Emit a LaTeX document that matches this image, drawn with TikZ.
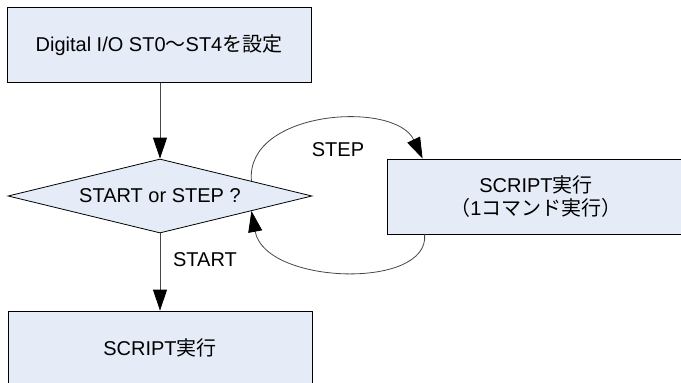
\documentclass[tikz,border=0pt]{standalone}
\usepackage{fontspec}
\setmainfont{Liberation Sans}
\newfontfamily\jp{Noto Sans CJK JP}
\usetikzlibrary{arrows.meta,shapes.geometric,calc}
\definecolor{boxfill}{RGB}{230,236,247}
\definecolor{linegray}{RGB}{70,70,70}
\begin{document}
\begin{tikzpicture}[x=1pt,y=-1pt,
  txt/.style={font=\fontsize{20}{23}\selectfont},
  flowbox/.style={txt, draw=black, line width=0.8pt, fill=boxfill,
    minimum width=304pt, minimum height=75pt, inner sep=0pt, align=center},
  decision/.style={txt, shape=diamond, draw=black, line width=0.8pt, fill=boxfill,
    minimum width=304pt, minimum height=74pt, inner sep=0pt, aspect=5},
  conn/.style={draw=linegray, line width=0.8pt,
    -{Triangle[length=21pt,width=14pt,color=black]}},
  lbl/.style={txt, inner sep=0pt}]
\useasboundingbox (0,0) rectangle (681,383);

% flow nodes
\node[flowbox] (init) at (159,45) {Digital I/O ST0{\jp 〜}ST4{\jp を設定}};
\node[decision] (dec) at (160,196) {START or STEP ?};
\node[flowbox, minimum width=298pt] (step) at (536,196.5)
  {SCRIPT{\jp 実行}\\{\jp （}1{\jp コマンド実行）}};
\node[flowbox, minimum height=74pt] (run) at (160,348) {SCRIPT{\jp 実行}};

% branch labels
\node[lbl] (lstep) at (338,150) {STEP};
\node[lbl] (lstart) at (205,260) {START};

% loop end points
\coordinate (su) at ($(dec.north)!0.6!(dec.east)$);
\coordinate (sl) at ($(dec.south)!0.6!(dec.east)$);
\coordinate (bt) at ($(step.north west)+(36,0)$);
\coordinate (bb) at ($(step.south west)+(38,0)$);

% connectors
\draw[conn] (init.south -| dec.north) -- (dec.north);
\draw[conn] (dec) -- (run);
\draw[conn] (su) .. controls (245,110) and (395,100) .. (bt);
\draw[conn] (bb) .. controls (430,290) and (265,285) .. (sl);
\end{tikzpicture}
\end{document}
